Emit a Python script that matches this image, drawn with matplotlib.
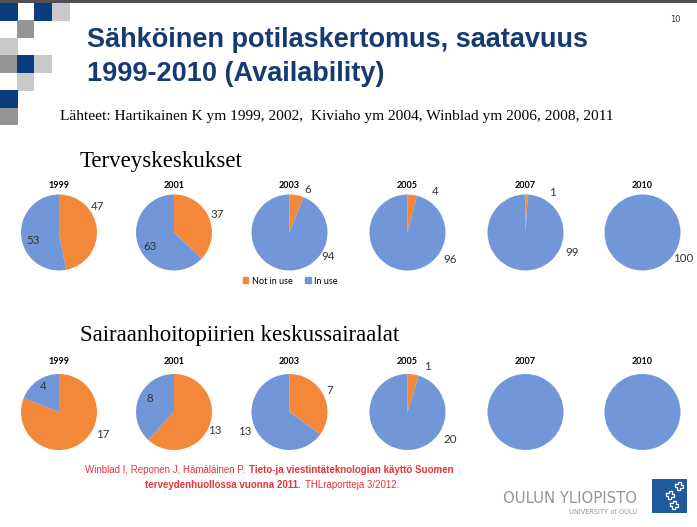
import numpy as np
import matplotlib
matplotlib.use('Agg')
import matplotlib.pyplot as plt
from matplotlib.patches import Rectangle, Patch

# data
years = ['1999', '2001', '2003', '2005', '2007', '2010']
# Terveyskeskukset (%)
tk_not_in_use = [47, 37, 6, 4, 1, 0]
tk_in_use = [53, 63, 94, 96, 99, 100]
# Sairaanhoitopiirien keskussairaalat (lkm)
sh_not_in_use = [17, 13, 7, 1, 0, 0]
sh_in_use = [4, 8, 13, 20, 21, 21]
sh_show_labels = [True, True, True, True, False, False]
legend_labels = ['Not in use', 'In use']

# layout (pixels, figure 697x527)
W, H = 697, 527
pie_x = [59, 174, 289.5, 407.5, 525.5, 642.5]
row_y = [232.5, 412]
year_gap = [1.12, 1.22]   # year label height above pie, in radii
R = 38          # pie radius in px
B = 55          # half size of pie axes in px
# label placement (angle deg, distance in radii) for (not in use, in use)
tk_lab_pos = [((34, 1.21), (198, 0.72)), ((23, 1.23), (211, 0.74)),
              ((67, 1.24), (-32, 1.2)), ((56, 1.29), (-32, 1.32)),
              ((56, 1.28), (-23, 1.33)), (None, (-33, 1.27))]
sh_lab_pos = [((-27, 1.29), (122, 0.8)), ((-24, 1.18), (151, 0.72)),
              ((28, 1.19), (203, 1.28)), ((66, 1.3), (-33, 1.35)),
              (None, None), (None, None)]

orange = '#F4883A'
blue = '#7197D8'
chart_font = ['Lato', 'DejaVu Sans']

fig = plt.figure(figsize=(W / 100, H / 100), dpi=100)
bg = fig.add_axes([0, 0, 1, 1])
bg.set_xlim(0, W)
bg.set_ylim(H, 0)
bg.axis('off')

# top bar and decoration squares
bg.add_patch(Rectangle((0, 0), W, 3, color='#505050', lw=0))
dk, gr, lg = '#0B3D7E', '#959595', '#C9C9C9'
cols = [0, 16.5, 34, 52]
rows = [3, 20, 37.5, 55, 73, 90, 107.5]
squares = [(0, 0, dk), (2, 0, dk), (3, 0, lg), (1, 1, gr), (0, 2, lg),
           (0, 3, gr), (1, 3, dk), (2, 3, lg), (1, 4, lg), (0, 5, dk), (0, 6, gr)]
for c, r, col in squares:
    bg.add_patch(Rectangle((cols[c], rows[r]), 17.5, 17.5, color=col, lw=0))

# titles
title_kw = dict(family='Liberation Sans', weight='bold', size=19.5, color='#173A72', va='baseline')
bg.text(87, 47, 'Sähköinen potilaskertomus, saatavuus', **title_kw)
bg.text(87, 81, '1999-2010 (Availability)', **title_kw)
bg.text(681, 22, '10', size=6, color='#333333', ha='right', va='baseline', family='DejaVu Sans')
bg.text(60, 120, 'Lähteet: Hartikainen K ym 1999, 2002,  Kiviaho ym 2004, Winblad ym 2006, 2008, 2011',
        family='Liberation Serif', size=11.1, va='baseline')
bg.text(80, 167, 'Terveyskeskukset', family='Liberation Serif', size=16.5, va='baseline')
bg.text(80, 341, 'Sairaanhoitopiirien keskussairaalat', family='Liberation Serif', size=16.5, va='baseline')


def draw_pie(cx, cy, vals, lab_pos, year, show, gap):
    ax = fig.add_axes([(cx - B) / W, 1 - (cy + B) / H, 2 * B / W, 2 * B / H])
    ax.pie(vals, colors=[orange, blue], startangle=90, counterclock=False,
           wedgeprops=dict(linewidth=0))
    lim = B / R
    ax.set_xlim(-lim, lim)
    ax.set_ylim(-lim, lim)
    ax.set_aspect('equal')
    ax.axis('off')
    ax.text(0, gap, year, ha='center', va='bottom', size=6.5, weight='bold', family=chart_font)
    if show:
        for v, pos in zip(vals, lab_pos):
            if v == 0 or pos is None:
                continue
            a, d = pos
            ax.text(d * np.cos(np.radians(a)), d * np.sin(np.radians(a)), str(v),
                    ha='center', va='center', size=8.3, color='#333333', family=chart_font)
    return ax


for i, yr in enumerate(years):
    draw_pie(pie_x[i], row_y[0], [tk_not_in_use[i], tk_in_use[i]], tk_lab_pos[i], yr, True, year_gap[0])
    draw_pie(pie_x[i], row_y[1], [sh_not_in_use[i], sh_in_use[i]], sh_lab_pos[i], yr,
             sh_show_labels[i], year_gap[1])

handles = [Patch(color=orange), Patch(color=blue)]
fig.legend(handles, legend_labels, loc='center', bbox_to_anchor=(290.5 / W, 1 - 281 / H),
           ncol=2, frameon=False, prop=dict(family=chart_font, size=6.5),
           handlelength=0.6, handleheight=0.6, columnspacing=1.4, handletextpad=0.4)

# reference in red
red = '#E5343B'
ref_kw = dict(family='Liberation Sans', size=7, color=red)
t1 = bg.text(85, 473, 'Winblad I, Reponen J, Hämäläinen P.', va='baseline', **ref_kw)
bg.annotate('Tieto-ja viestintäteknologian käyttö Suomen', xy=(1, 0), xycoords=t1,
            xytext=(3, 0), textcoords='offset points', va='bottom', weight='bold', **ref_kw)
t3 = bg.text(145, 488, 'terveydenhuollossa vuonna 2011.', va='baseline', weight='bold', **ref_kw)
bg.annotate('THLraportteja 3/2012.', xy=(1, 0), xycoords=t3,
            xytext=(3, 0), textcoords='offset points', va='bottom', **ref_kw)

# university logo
bg.text(637, 503, 'OULUN YLIOPISTO', family='DejaVu Sans', size=10.7,
        color='#949494', ha='right', va='baseline')
bg.text(637, 514, 'UNIVERSITY of OULU', family='DejaVu Sans', size=4.8,
        color='#949494', ha='right', va='baseline')
bg.add_patch(Rectangle((652, 479), 35, 34, color='#1F5A9E', lw=0))
piece = np.array([[0, 0], [3, 0], [3, -2], [6, -2], [6, 1], [8, 1], [8, 4], [5, 4], [5, 6], [2, 6], [2, 3], [0, 3], [0, 0]])
for ox, oy in [(675, 484), (666, 493), (670, 503)]:
    bg.plot(piece[:, 0] + ox, piece[:, 1] + oy, color='white', lw=0.9)

fig.savefig('out.png', dpi=100)
